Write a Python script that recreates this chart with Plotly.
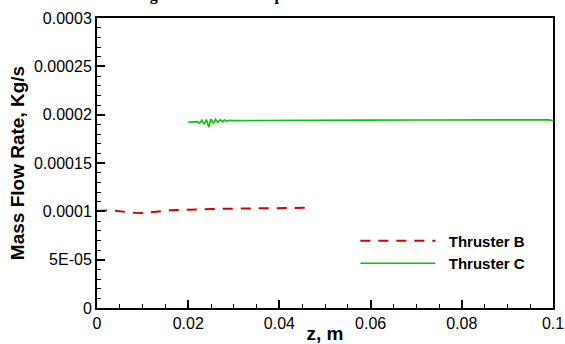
import plotly.graph_objects as go

# Thruster B (red dashed)
z_b = [0.0, 0.002, 0.004, 0.006, 0.008, 0.010, 0.012, 0.014, 0.016, 0.020, 0.025, 0.030, 0.035, 0.040, 0.0463]
m_b = [0.0001003, 0.0001008, 0.0001005, 0.0000992, 0.0000985, 0.0000984, 0.0000990, 0.0001000, 0.0001010,
       0.0001018, 0.0001024, 0.0001028, 0.0001032, 0.0001035, 0.0001037]

# Thruster C (green solid)
z_c = [0.020, 0.021, 0.022, 0.0225, 0.023, 0.0235, 0.024, 0.0245, 0.025, 0.0255, 0.026, 0.0265,
       0.027, 0.0275, 0.028, 0.0285, 0.029, 0.030, 0.035, 0.040, 0.050, 0.060, 0.070, 0.080,
       0.090, 0.097, 0.099, 0.100]
m_c = [0.0001923, 0.0001925, 0.0001928, 0.0001912, 0.0001942, 0.0001902, 0.0001950, 0.0001870,
       0.0001955, 0.0001910, 0.0001952, 0.0001922, 0.0001948, 0.0001928, 0.0001945, 0.0001932,
       0.0001942, 0.0001938, 0.0001940, 0.0001942, 0.0001943, 0.0001944, 0.0001945, 0.0001946,
       0.0001947, 0.0001948, 0.0001946, 0.0001940]

x_tickvals = [0, 0.02, 0.04, 0.06, 0.08, 0.1]
x_ticktext = ["0", "0.02", "0.04", "0.06", "0.08", "0.1"]
y_tickvals = [0, 0.00005, 0.0001, 0.00015, 0.0002, 0.00025, 0.0003]
y_ticktext = ["0", "5E-05", "0.0001", "0.00015", "0.0002", "0.00025", "0.0003"]

SANS = "Liberation Sans, Arial"
TITLE = "<b>Mass Flow Rate along the Nozzle: Comparison of Thruster B and Thruster C at each position</b>"

fig = go.Figure()
fig.add_trace(go.Scatter(x=z_b, y=m_b, mode="lines", name="\u00a0\u00a0<b>Thruster B</b>",
                         line=dict(color="#d40000", width=2, dash="10px,8px")))
fig.add_trace(go.Scatter(x=z_c, y=m_c, mode="lines", name="\u00a0\u00a0<b>Thruster C</b>",
                         line=dict(color="#00cc00", width=1.6)))

axis_common = dict(showgrid=False, zeroline=False, showline=True, linecolor="black",
                   linewidth=2, mirror=True, ticks="inside", ticklen=8, tickwidth=2,
                   tickcolor="black", automargin=False,
                   tickfont=dict(family=SANS, size=16, color="black"))

fig.update_xaxes(range=[0, 0.1], tickmode="array", tickvals=x_tickvals, ticktext=x_ticktext,
                 minor=dict(dtick=0.005, ticks="inside", ticklen=4, tickwidth=1, tickcolor="black"),
                 title=dict(text="<b>z, m</b>", font=dict(family=SANS, size=19, color="black"),
                            standoff=0),
                 **axis_common)
fig.update_yaxes(range=[0, 0.0003], tickmode="array", tickvals=y_tickvals, ticktext=y_ticktext,
                 minor=dict(dtick=0.00001, ticks="inside", ticklen=4, tickwidth=1, tickcolor="black"),
                 title=dict(text="<b>Mass Flow Rate, Kg/s</b>",
                            font=dict(family=SANS, size=19, color="black"), standoff=4),
                 **axis_common)

fig.add_annotation(text=TITLE, xref="paper", yref="paper", x=0.5, y=1.079,
                   xanchor="center", yanchor="middle", showarrow=False,
                   font=dict(family="Liberation Serif, Times New Roman", size=16, color="black"))

fig.update_layout(
    width=565, height=344,
    margin=dict(l=97, r=12, t=18, b=36),
    paper_bgcolor="white", plot_bgcolor="white",
    legend=dict(x=0.5666, y=0.288, xanchor="left", yanchor="top", bgcolor="rgba(0,0,0,0)",
                font=dict(family=SANS, size=15, color="black"),
                itemwidth=75, tracegroupgap=2),
    showlegend=True,
)

fig.write_html("out.html", config={"displayModeBar": False},
               post_script="document.body.style.margin='0';document.body.style.overflow='hidden';")
